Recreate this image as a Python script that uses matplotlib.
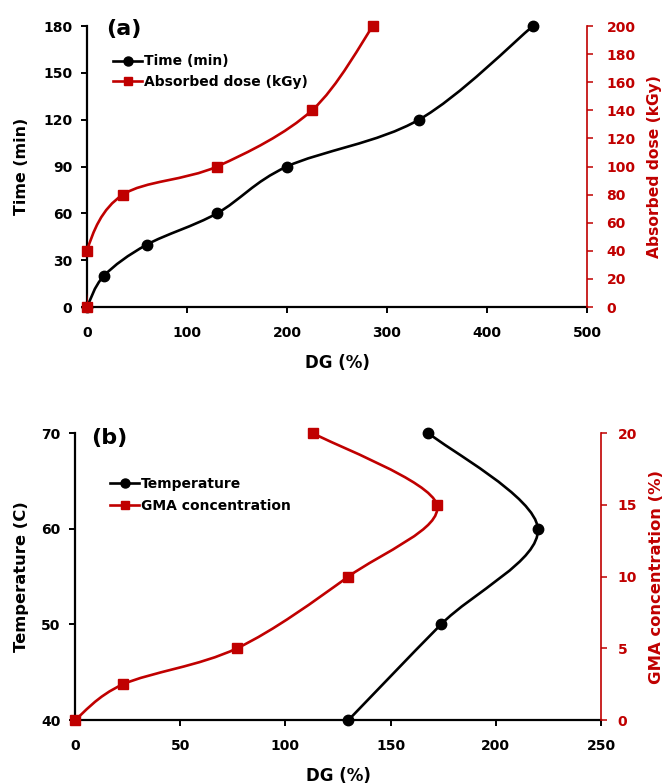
import numpy as np
import matplotlib
matplotlib.use("Agg")
import matplotlib.pyplot as plt
from matplotlib.path import Path
from matplotlib.patches import PathPatch

# ---- data ----
# panel (a)
a_time_dg = [0, 17, 60, 130, 200, 332, 446]
a_time = [0, 20, 40, 60, 90, 120, 180]
a_dose_dg = [0, 0, 36, 130, 225, 286]
a_dose = [0, 40, 80, 100, 140, 200]
# panel (b)
b_temp_dg = [130, 174, 220, 168]
b_temp = [40, 50, 60, 70]
b_gma_dg = [0, 23, 77, 130, 172, 113]
b_gma = [0, 2.5, 5, 10, 15, 20]

RED = "#c00000"
plt.rcParams["font.family"] = ["DejaVu Sans"]
plt.rcParams["font.weight"] = "bold"


def smooth_path(x, y):
    pts = np.column_stack([x, y]).astype(float)
    n = len(pts)
    verts = [pts[0]]
    codes = [Path.MOVETO]
    for i in range(n - 1):
        p0 = pts[i - 1] if i > 0 else pts[i]
        p1 = pts[i]
        p2 = pts[i + 1]
        p3 = pts[i + 2] if i + 2 < n else pts[i + 1]
        c1 = p1 + (p2 - p0) / 6.0
        c2 = p2 - (p3 - p1) / 6.0
        verts += [c1, c2, p2]
        codes += [Path.CURVE4] * 3
    return Path(verts, codes)


def draw_series(ax, x, y, color, marker, ms, label):
    patch = PathPatch(smooth_path(x, y), facecolor="none", edgecolor=color,
                      lw=1.9, transform=ax.transData, zorder=3)
    ax.add_patch(patch)
    ax.plot(x, y, linestyle="none", marker=marker, color=color, ms=ms,
            zorder=4, clip_on=False)
    h, = ax.plot([], [], color=color, lw=1.9, marker=marker, ms=ms - 1, label=label)
    return h


def style(ax, ax2, rpad):
    ax.spines["top"].set_visible(False)
    ax2.spines["top"].set_visible(False)
    ax.spines["right"].set_visible(False)
    ax2.spines["left"].set_visible(False)
    ax2.spines["bottom"].set_visible(False)
    for sp in ["left", "bottom"]:
        ax.spines[sp].set_linewidth(1.6)
    ax2.spines["right"].set_color(RED)
    ax2.spines["right"].set_linewidth(1.2)
    ax.tick_params(axis="x", direction="out", length=4.5, width=1.4, labelsize=10,
                   pad=9)
    ax.tick_params(axis="y", direction="out", length=4, width=1.4, labelsize=10,
                   pad=6.5)
    ax2.tick_params(axis="y", direction="out", length=4, width=1.1, labelsize=10,
                    colors=RED, pad=rpad)
    for lbl in ax.get_xticklabels() + ax.get_yticklabels() + ax2.get_yticklabels():
        lbl.set_fontweight("bold")


fig = plt.figure(figsize=(6.69, 7.84), dpi=100)

# ---- panel (a) ----
ax = fig.add_axes([0.1300, 0.6084, 0.7474, 0.3584])
ax2 = ax.twinx()
h1 = draw_series(ax, a_time_dg, a_time, "black", "o", 7.5, "Time (min)")
h2 = draw_series(ax2, a_dose_dg, a_dose, RED, "s", 6.8, "Absorbed dose (kGy)")
ax.set_xlim(0, 500)
ax.set_ylim(0, 180)
ax2.set_ylim(0, 200)
ax.set_xticks(np.arange(0, 501, 100))
ax.set_yticks(np.arange(0, 181, 30))
ax2.set_yticks(np.arange(0, 201, 20))
style(ax, ax2, 10)
ax.set_xlabel("DG (%)", fontsize=12, fontweight="bold", va="center")
ax.xaxis.set_label_coords(0.5, -0.199)
ax.set_ylabel("Time (min)", fontsize=11.4, fontweight="bold", va="center")
ax.yaxis.set_label_coords(-0.13, 0.5)
ax2.set_ylabel("Absorbed dose (kGy)", fontsize=11.2, fontweight="bold", color=RED,
               va="center", rotation=90)
ax2.yaxis.set_label_coords(1.136, 0.5)
ax.text(0.038, 0.989, "(a)", transform=ax.transAxes, fontsize=16, fontweight="bold",
        va="center", ha="left")
ax.legend(handles=[h1, h2], loc="upper left", bbox_to_anchor=(0.052, 0.899),
          frameon=False, fontsize=10, handlelength=2.1, handletextpad=0.1,
          labelspacing=0.45, borderaxespad=0, borderpad=0)

# ---- panel (b) ----
bx = fig.add_axes([0.1121, 0.0816, 0.7862, 0.3661])
bx2 = bx.twinx()
g1 = draw_series(bx, b_temp_dg, b_temp, "black", "o", 7.5, "Temperature")
g2 = draw_series(bx2, b_gma_dg, b_gma, RED, "s", 6.8, "GMA concentration")
bx.set_xlim(0, 250)
bx.set_ylim(40, 70)
bx2.set_ylim(0, 20)
bx.set_xticks(np.arange(0, 251, 50))
bx.set_yticks(np.arange(40, 71, 10))
bx2.set_yticks(np.arange(0, 21, 5))
style(bx, bx2, 8)
bx.set_xlabel("DG (%)", fontsize=12, fontweight="bold", va="center")
bx.xaxis.set_label_coords(0.5, -0.195)
bx.set_ylabel("Temperature (C)", fontsize=11.8, fontweight="bold", va="center")
bx.yaxis.set_label_coords(-0.1008, 0.5)
bx2.set_ylabel("GMA concentration (%)", fontsize=11.8, fontweight="bold", color=RED,
               va="center", rotation=90)
bx2.yaxis.set_label_coords(1.1065, 0.5)
bx.text(0.030, 0.983, "(b)", transform=bx.transAxes, fontsize=16, fontweight="bold",
        va="center", ha="left")
bx.legend(handles=[g1, g2], loc="upper left", bbox_to_anchor=(0.0665, 0.848),
          frameon=False, fontsize=10, handlelength=2.1, handletextpad=0.1,
          labelspacing=0.6, borderaxespad=0, borderpad=0)

fig.savefig("out.png", dpi=100)
